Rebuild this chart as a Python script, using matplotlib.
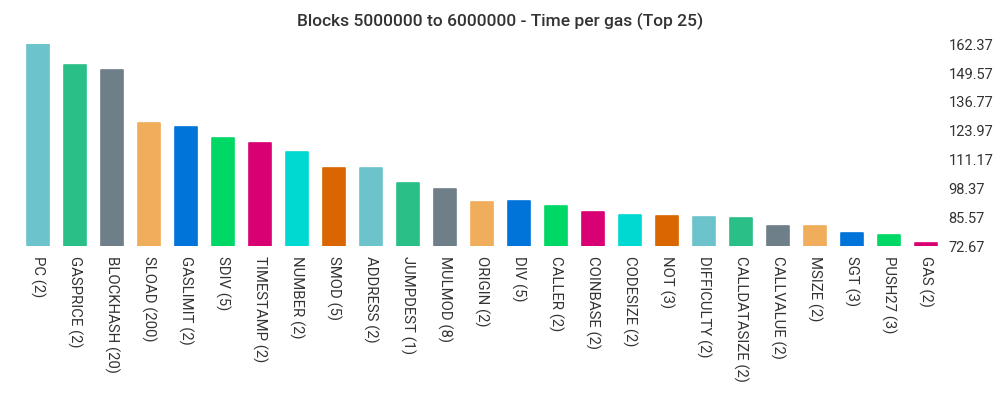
import matplotlib.pyplot as plt

# --- Data ---
opcodes = ['PC (2)', 'GASPRICE (2)', 'BLOCKHASH (20)', 'SLOAD (200)', 'GASLIMIT (2)',
           'SDIV (5)', 'TIMESTAMP (2)', 'NUMBER (2)', 'SMOD (5)', 'ADDRESS (2)',
           'JUMPDEST (1)', 'MULMOD (8)', 'ORIGIN (2)', 'DIV (5)', 'CALLER (2)',
           'COINBASE (2)', 'CODESIZE (2)', 'NOT (3)', 'DIFFICULTY (2)', 'CALLDATASIZE (2)',
           'CALLVALUE (2)', 'MSIZE (2)', 'SGT (3)', 'PUSH27 (3)', 'GAS (2)']
time_per_gas = [162.37, 153.2, 151.0, 127.3, 125.5,
                120.6, 118.4, 114.5, 107.5, 107.3,
                100.6, 98.0, 92.2, 92.5, 90.5,
                87.8, 86.5, 86.0, 85.6, 85.0,
                81.6, 81.4, 78.5, 77.4, 74.0]
y_ticks = [72.67, 85.57, 98.37, 111.17, 123.97, 136.77, 149.57, 162.37]

palette = ['#6cc3cb', '#2bbf88', '#6e7f8a', '#f0ad5b', '#0074d9',
           '#00d866', '#d80073', '#00d9d1', '#d96600']
colors = [palette[i % len(palette)] for i in range(len(opcodes))]

plt.rcParams['font.family'] = ['Roboto', 'DejaVu Sans']

fig = plt.figure(figsize=(10, 4), dpi=100)
ax = fig.add_axes([0.0195, 0.385, 0.925, 0.504])

x = list(range(len(opcodes)))
ax.bar(x, [v - y_ticks[0] for v in time_per_gas], bottom=y_ticks[0], width=0.6,
       color=colors, edgecolor=colors, linewidth=1.2, joinstyle='round')

ax.set_xlim(-0.5, len(opcodes) - 0.5)
ax.set_ylim(y_ticks[0], y_ticks[-1])
ax.set_xticks(x)
ax.set_xticklabels(opcodes, rotation=270, fontsize=10.7, color='#333333', va='top', ha='center')
ax.set_yticks(y_ticks)
ax.set_yticklabels([f'{t:.2f}' for t in y_ticks], fontsize=10.5, color='#333333')
ax.yaxis.tick_right()
ax.tick_params(axis='both', length=0)
ax.tick_params(axis='y', pad=3)
ax.tick_params(axis='x', pad=7)
for side in ax.spines.values():
    side.set_visible(False)

fig.text(0.5, 0.947, 'Blocks 5000000 to 6000000 - Time per gas (Top 25)',
         ha='center', va='center', fontsize=12.5, fontweight='medium', color='#333333')

fig.savefig('out.png', dpi=100)
